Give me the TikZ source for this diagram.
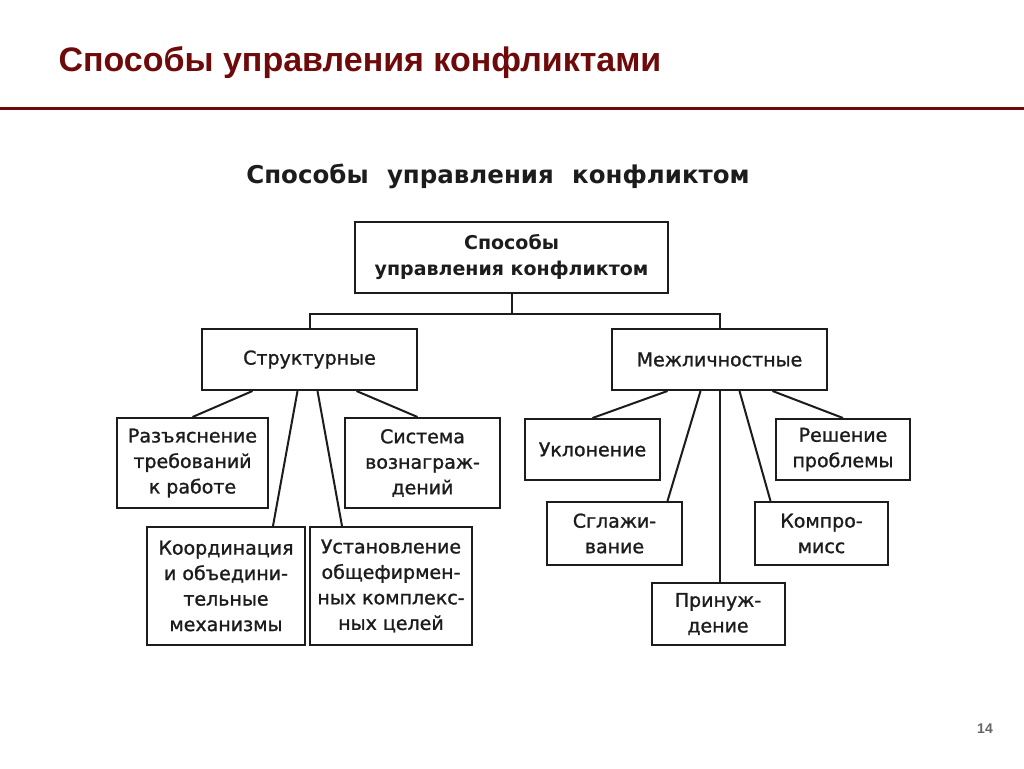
\documentclass[tikz,border=0pt]{standalone}
\usepackage{fontspec}
\setmainfont{DejaVu Sans}
\newfontfamily\titlefont{Liberation Sans}
\newfontfamily\boitefont[FakeBold=1.2]{DejaVu Sans}
\usetikzlibrary{calc}
\definecolor{titrerouge}{HTML}{6E0A0A}
\definecolor{encre}{HTML}{1C1C1C}
\begin{document}
\begin{tikzpicture}[x=1pt,y=-1pt]
% définition des styles
\tikzset{
  boite/.style={rectangle,draw=encre,line width=2pt,inner sep=0pt,align=center,
    text=encre,font=\boitefont\fontsize{19}{25.5}\selectfont},
  lien/.style={draw=encre,line width=2pt}
}
\useasboundingbox[fill=white] (0,0) rectangle (1024,768);
% l'en-tête
\node[anchor=west,text=titrerouge,font=\titlefont\bfseries\fontsize{34}{40}\selectfont] (titre) at (55,63) {Способы управления конфликтами};
\draw[titrerouge,line width=3pt] (0,108) -- (1024,108);
\node[text=black!60,font=\titlefont\bfseries\fontsize{14}{16}\selectfont] (page) at (985,729) {14};
\node[text=encre,font=\bfseries\fontsize{24.5}{28}\selectfont] (soustitre) at (498,176) {Способы\hspace{0.4em} управления\hspace{0.4em} конфликтом};
% les nœuds
\node[boite,minimum width=313pt,minimum height=71pt,font=\bfseries\fontsize{19}{26}\selectfont] (SUC) at (511.5,257.5) {Способы\\управления конфликтом};
\node[boite,minimum width=215pt,minimum height=61pt] (S) at (309.5,359.5) {Структурные};
\node[boite,minimum width=215pt,minimum height=61pt] (M) at (719.5,359.5) {Межличностные};
\node[boite,minimum width=151pt,minimum height=90pt] (R) at (192.5,463) {Разъяснение\\требований\\к работе};
\node[boite,minimum width=155pt,minimum height=90pt] (SV) at (422.5,463) {Система\\вознаграж-\\дений};
\node[boite,minimum width=158pt,minimum height=118pt] (K) at (226,586) {Координация\\и объедини-\\тельные\\механизмы};
\node[boite,minimum width=162pt,minimum height=118pt] (U) at (391,586) {Установление\\общефирмен-\\ных комплекс-\\ных целей};
\node[boite,minimum width=135pt,minimum height=61pt] (UK) at (592.5,449.5) {Уклонение};
\node[boite,minimum width=134pt,minimum height=61pt] (RP) at (843,449.5) {Решение\\проблемы};
\node[boite,minimum width=135pt,minimum height=63pt] (SG) at (614.5,533.5) {Сглажи-\\вание};
\node[boite,minimum width=133pt,minimum height=63pt] (KM) at (821.5,533.5) {Компро-\\мисс};
\node[boite,minimum width=133pt,minimum height=62pt] (P) at (718,614) {Принуж-\\дение};
\coordinate (fourche) at (511.5,314);
% les liens
\draw[lien] (SUC.south) -- (fourche);
\draw[lien] (S.north) |- (fourche) -| (M.north);
\draw[lien] ([xshift=-57pt]S.south) -- (R.north);
\draw[lien] ([xshift=47pt]S.south) -- ([xshift=-5pt]SV.north);
\draw[lien] ([xshift=-12pt]S.south) -- ([xshift=47pt]K.north);
\draw[lien] ([xshift=8pt]S.south) -- ([xshift=-49pt]U.north);
\draw[lien] ([xshift=-52pt]M.south) -- (UK.north);
\draw[lien] ([xshift=-19pt]M.south) -- ([xshift=53pt]SG.north);
\draw[lien] (M.south) -- (M.south |- P.north);
\draw[lien] ([xshift=20pt]M.south) -- ([xshift=-51pt]KM.north);
\draw[lien] ([xshift=53pt]M.south) -- (RP.north);
\end{tikzpicture}
\end{document}
